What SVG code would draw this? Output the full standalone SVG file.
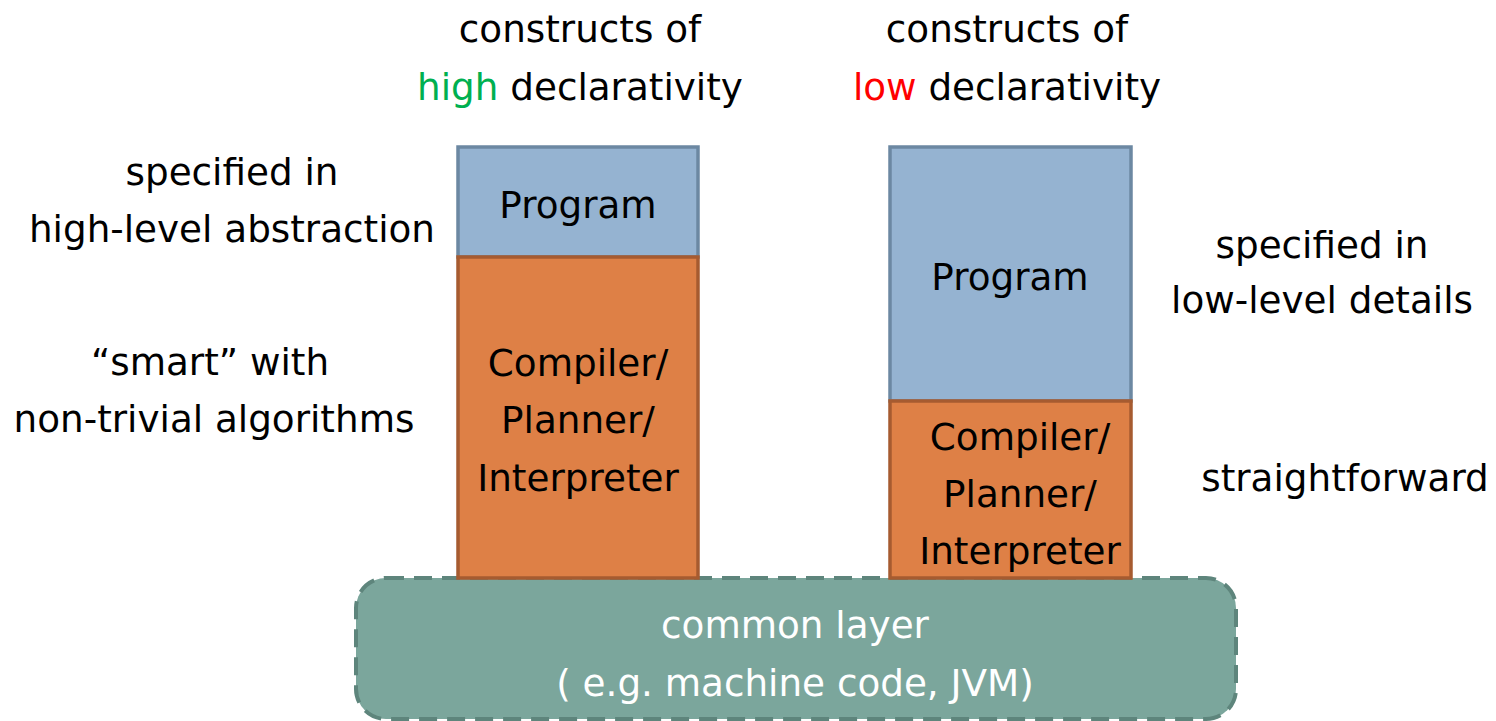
<svg xmlns="http://www.w3.org/2000/svg" width="1496" height="721" viewBox="0 0 1496 721">
  <style>
    text { font-family: "DejaVu Sans", "Liberation Sans", sans-serif; font-size: 37.3px; fill: #000; text-anchor: middle; }
    .prog { fill: #95B3D1; stroke: #6C88A2; stroke-width: 3.5; }
    .comp { fill: #DE8046; stroke: #A65B30; stroke-width: 3.5; }
    .base { fill: #7BA69C; stroke: #5E857C; stroke-width: 4; stroke-dasharray: 18 10; }
    .white { fill: #FFFFFF; }
    .hi { fill: #00B050; }
    .lo { fill: #FF0000; }
  </style>

  <!-- shared bottom layer -->
  <g id="common-layer">
    <rect class="base" x="356" y="578" width="880" height="141" rx="30" ry="30"/>
    <text class="white" x="795" y="638">common layer</text>
    <text class="white" x="795" y="696">( e.g. machine code, JVM)</text>
  </g>

  <!-- left stack: high declarativity -->
  <g id="left-program">
    <rect class="prog" x="458" y="147" width="240" height="110"/>
    <text x="578" y="218">Program</text>
  </g>
  <g id="left-compiler">
    <rect class="comp" x="458" y="257" width="240" height="321"/>
    <text x="578" y="376">Compiler/</text>
    <text x="578" y="433">Planner/</text>
    <text x="578" y="491">Interpreter</text>
  </g>

  <!-- right stack: low declarativity -->
  <g id="right-program">
    <rect class="prog" x="890" y="147" width="241" height="254"/>
    <text x="1010" y="290">Program</text>
  </g>
  <g id="right-compiler">
    <rect class="comp" x="890" y="401" width="241" height="177"/>
    <text x="1020" y="450">Compiler/</text>
    <text x="1020" y="507">Planner/</text>
    <text x="1020" y="564">Interpreter</text>
  </g>

  <!-- column headings -->
  <g id="heading-high">
    <text x="580" y="42">constructs of</text>
    <text x="580" y="100"><tspan class="hi">high</tspan> declarativity</text>
  </g>
  <g id="heading-low">
    <text x="1007" y="42">constructs of</text>
    <text x="1007" y="100"><tspan class="lo">low</tspan> declarativity</text>
  </g>

  <!-- side annotations -->
  <g id="note-high-level">
    <text x="232" y="185">specified in</text>
    <text x="232" y="242">high-level abstraction</text>
  </g>
  <g id="note-smart">
    <text x="210" y="375">“smart” with</text>
    <text x="214" y="432">non-trivial algorithms</text>
  </g>
  <g id="note-low-level">
    <text x="1322" y="258">specified in</text>
    <text x="1322" y="313">low-level details</text>
  </g>
  <g id="note-straightforward">
    <text x="1345" y="491">straightforward</text>
  </g>

  <g id="connectors"/>
</svg>
